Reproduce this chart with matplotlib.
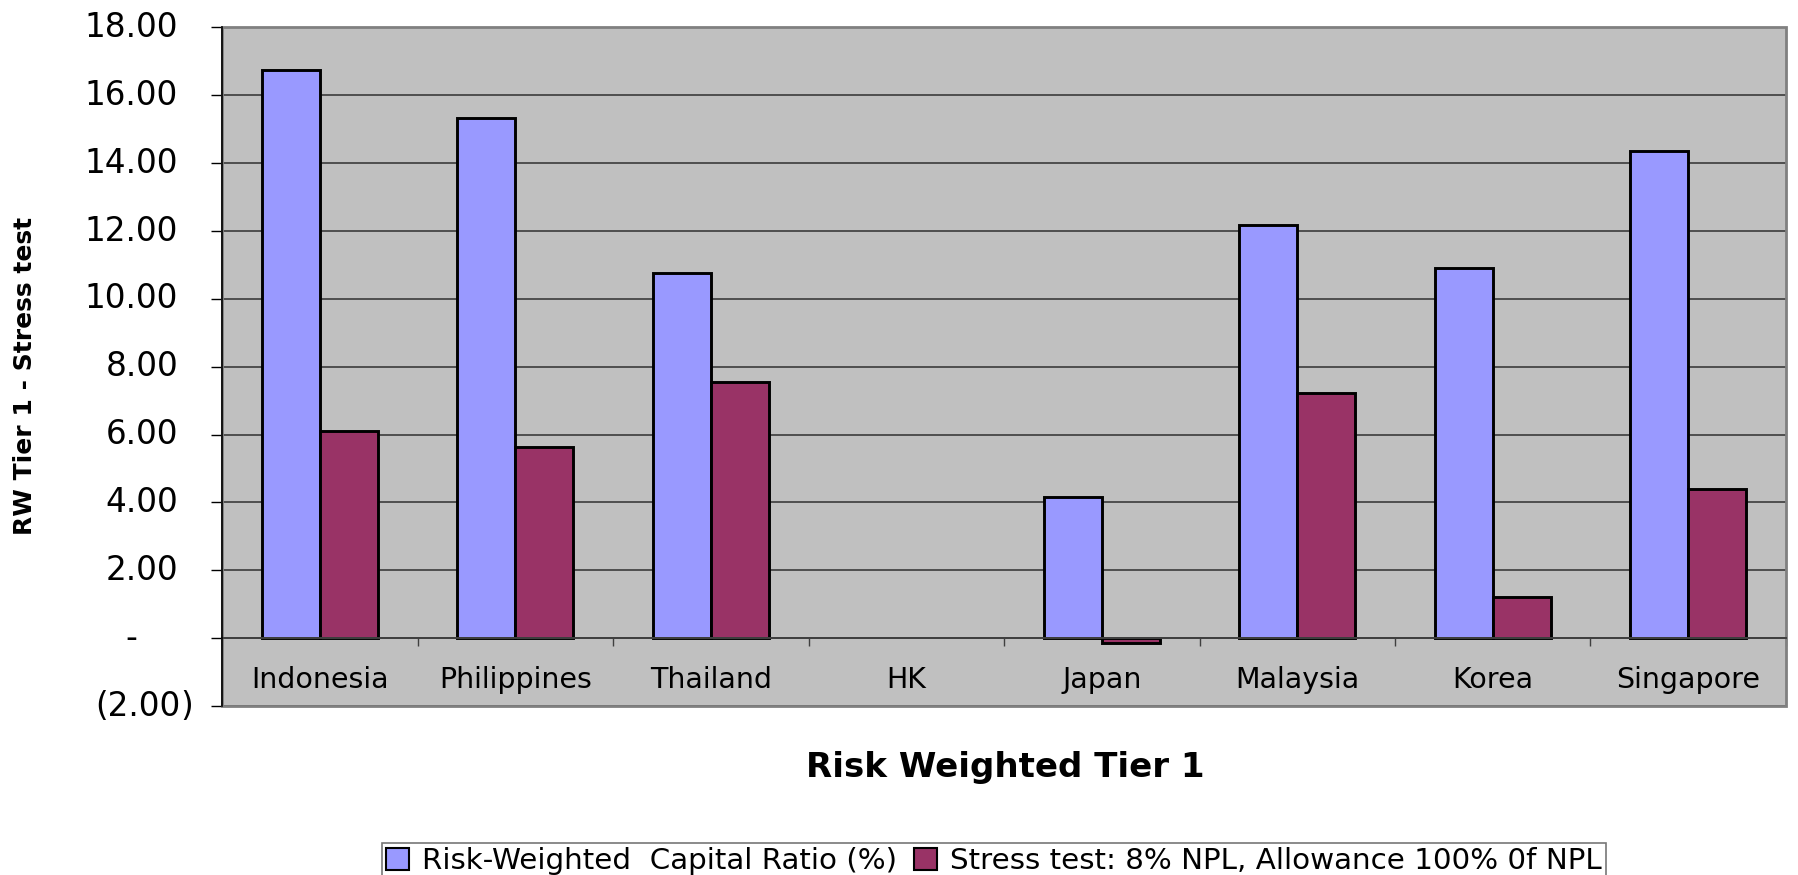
import numpy as np
import matplotlib
matplotlib.use("Agg")
import matplotlib.pyplot as plt
from matplotlib.patches import Rectangle

# Data
countries = ["Indonesia", "Philippines", "Thailand", "HK", "Japan",
             "Malaysia", "Korea", "Singapore"]
capital_ratio = [16.75, 15.32, 10.75, np.nan, 4.17, 12.18, 10.90, 14.36]
stress_test = [6.10, 5.62, 7.54, np.nan, -0.15, 7.22, 1.21, 4.41]
series_names = ["Risk-Weighted  Capital Ratio (%)",
                "Stress test: 8% NPL, Allowance 100% 0f NPL"]
y_ticks = [-2, 0, 2, 4, 6, 8, 10, 12, 14, 16, 18]

BLUE = "#9999FF"
PLUM = "#993366"
PLOT_BG = "#C0C0C0"

W, H, DPI = 1798, 875, 100
fig = plt.figure(figsize=(W / DPI, H / DPI), dpi=DPI)
fig.patch.set_facecolor("white")

left, right, top, bottom = 222, 1786, 27.5, 706
ax = fig.add_axes([left / W, 1 - bottom / H, (right - left) / W, (bottom - top) / H])
ax.set_facecolor(PLOT_BG)

x = np.arange(len(countries))
bw = 0.297
ax.bar(x - bw / 2, capital_ratio, width=bw, color=BLUE, edgecolor="black",
       linewidth=2.1, zorder=3, label=series_names[0])
ax.bar(x + bw / 2, stress_test, width=bw, color=PLUM, edgecolor="black",
       linewidth=2.1, zorder=3, label=series_names[1])

ax.set_xlim(-0.5, len(countries) - 0.5)
ax.set_ylim(y_ticks[0], y_ticks[-1])

# horizontal gridlines
ax.set_yticks(y_ticks)
ax.yaxis.grid(True, color="#303030", linewidth=1.1, zorder=1)
ax.set_axisbelow(True)
ax.tick_params(axis="y", direction="out", length=8, width=1.0, color="black",
               labelleft=False)

# category axis sits on the zero line, ticks between categories
ax.spines["bottom"].set_position(("data", 0))
ax.spines["bottom"].set_color("#404040")
ax.spines["bottom"].set_linewidth(1.4)
ax.spines["bottom"].set_zorder(4)
ax.set_xticks(np.arange(len(countries) + 1) - 0.5)
ax.tick_params(axis="x", direction="out", length=6, width=1.0, color="#404040",
               labelbottom=False)
for name in ("top", "right"):
    ax.spines[name].set_visible(False)
ax.spines["left"].set_color("black")
ax.spines["left"].set_linewidth(1.2)
ax.spines["left"].set_zorder(5)

# plot-area border
ax.add_patch(Rectangle((0, 0), 1, 1, transform=ax.transAxes, fill=False,
                       edgecolor="#808080", linewidth=2.0, zorder=2,
                       clip_on=False))

# category labels inside the plot area, below the zero line
for i, name in enumerate(countries):
    ax.text(i, -1.22, name, ha="center", va="center", fontsize=20.5,
            family="DejaVu Sans", color="black", zorder=4)

# accounting-style value labels on the value axis
lab_kw = dict(xycoords=("axes fraction", "data"), textcoords="offset pixels",
              va="center", fontsize=23.5, family="DejaVu Sans", color="black",
              annotation_clip=False)
for v in y_ticks:
    if v > 0:
        ax.annotate(f"{v:.2f}", xy=(0, v), xytext=(-44, 0), ha="right", **lab_kw)
    elif v == 0:
        ax.annotate("-", xy=(0, v), xytext=(-85, 0), ha="right", **lab_kw)
    else:
        ax.annotate(f"({abs(v):.2f}", xy=(0, v), xytext=(-42, 0), ha="right", **lab_kw)
        ax.annotate(")", xy=(0, v), xytext=(-42, 0), ha="left", **lab_kw)

fig.text(25 / W, 1 - 376 / H, "RW Tier 1 - Stress test", rotation=90,
         ha="center", va="center", fontsize=18, fontweight="bold",
         family="DejaVu Sans")
fig.text(1005 / W, 1 - 767 / H, "Risk Weighted Tier 1", ha="center",
         va="center", fontsize=24.5, fontweight="bold", family="DejaVu Sans")

leg = fig.legend(loc="upper left", bbox_to_anchor=(382 / W, 1 - 843 / H),
                 ncol=2, frameon=True, fancybox=False, shadow=False,
                 prop={"family": "DejaVu Sans", "size": 21.2},
                 handlelength=0.75, handleheight=0.75, handletextpad=0.45,
                 columnspacing=0.6, borderpad=0.15, borderaxespad=0)
leg.get_frame().set_edgecolor("#555555")
leg.get_frame().set_linewidth(1.2)
for h in leg.legend_handles:
    h.set_linewidth(1.5)

fig.savefig("out.png", dpi=DPI, facecolor="white")
